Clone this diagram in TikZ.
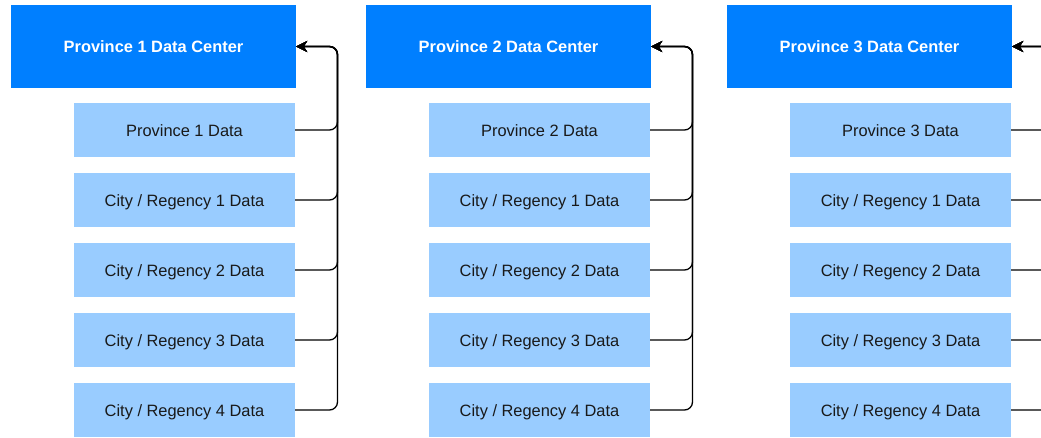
\documentclass[tikz,border=0pt]{standalone}
\usepackage{fontspec}
\setmainfont{Liberation Sans}
\usetikzlibrary{arrows.meta}
\definecolor{centerblue}{HTML}{007FFF}
\definecolor{datablue}{HTML}{99CCFF}
\begin{document}
\begin{tikzpicture}[x=1pt,y=-1pt,
  boxtext/.style={inner sep=0pt, text height=12.2pt, text depth=0pt},
  centerbox/.style={boxtext, fill=centerblue, text=white, minimum width=285pt, minimum height=83pt,
    font=\fontsize{16.4}{19}\selectfont\bfseries},
  databox/.style={boxtext, fill=datablue, text=black!90, minimum width=221pt, minimum height=54pt,
    font=\fontsize{16.4}{19}\selectfont},
  feed/.style={draw=black, line width=1.3pt, rounded corners=8pt,
    -{Stealth[length=11pt,width=11pt,inset=3.5pt]}}]
\useasboundingbox (0,0) rectangle (1041,437);
\clip (0,0) rectangle (1041,437);
\foreach \c/\dx in {1/0, 2/355, 3/716} {
  % data center of the province
  \node[centerbox] (h\c) at (153.5+\dx,46.5) {Province \c\ Data Center};
  % province and city / regency data sets
  \node[databox] (d\c0) at (184.5+\dx,130) {Province \c\ Data};
  \foreach \r in {1,...,4} {
    \node[databox] (d\c\r) at (184.5+\dx,130+70*\r) {City / Regency \r\ Data};
  }
  % shared riser beside the column
  \coordinate (t\c) at (337.5+\dx,46.5);
  \foreach \r in {0,...,4} {
    \draw[feed] (d\c\r.east) -| (t\c) -- (h\c.east);
  }
}
\end{tikzpicture}
\end{document}
